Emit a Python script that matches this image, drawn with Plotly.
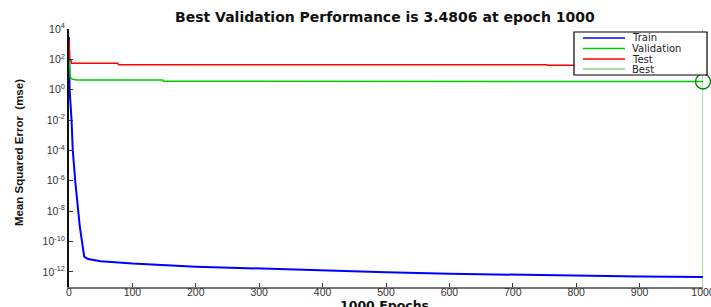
import plotly.graph_objects as go

# ---------------- data ----------------
train_epochs = [0, 1, 4, 6, 10, 13, 17, 24, 30, 50, 100, 200, 300, 400, 500, 600, 700, 800, 900, 1000]
train_mse = [3000, 1.0, 1e-2, 1e-4, 8e-7, 5.6e-8, 1e-9, 1e-11, 7e-12, 5e-12, 3.5e-12,
             2.2e-12, 1.6e-12, 1.2e-12, 9.3e-13, 7.4e-13, 6.3e-13, 5.6e-13, 5e-13, 4.5e-13]

val_epochs = [0, 1, 2, 5, 9, 12, 148, 149, 1000]
val_mse = [120, 12, 6.5, 5.0, 4.5, 4.35, 4.3, 3.6, 3.4806]

test_epochs = [0, 1, 3, 4, 77, 78, 754, 755, 1000]
test_mse = [1900, 95, 90, 55, 55, 44, 44, 41, 41]

best_epoch = 1000
best_perf = 3.4806

x_tick_vals = [0, 100, 200, 300, 400, 500, 600, 700, 800, 900, 1000]
y_tick_exps = [-12, -10, -8, -6, -4, -2, 0, 2, 4]
y_tick_vals = [10.0 ** e for e in y_tick_exps]
y_tick_text = ["10<sup>%d</sup>" % e for e in y_tick_exps]

legend_names = ["Train", "Validation", "Test", "Best"]
legend_colors = ["#0000ff", "#00cc00", "#ff0000", "rgba(0,150,0,0.35)"]

title_text = "Best Validation Performance is 3.4806 at epoch 1000"
x_label = "1000 Epochs"
y_label = "Mean Squared Error  (mse)"

# ---------------- figure ----------------
fig = go.Figure()

fig.add_trace(go.Scatter(x=train_epochs, y=train_mse, mode="lines",
                         line=dict(color="#0000ff", width=2), showlegend=False))
fig.add_trace(go.Scatter(x=val_epochs, y=val_mse, mode="lines",
                         line=dict(color="#00cc00", width=1.5), showlegend=False))
fig.add_trace(go.Scatter(x=test_epochs, y=test_mse, mode="lines",
                         line=dict(color="#ff0000", width=1.5), showlegend=False))
# Best: vertical line + circle
fig.add_trace(go.Scatter(x=[best_epoch, best_epoch], y=[1e-13, 1e4], mode="lines",
                         line=dict(color="rgba(0,150,0,0.45)", width=1.5), showlegend=False))
fig.add_trace(go.Scatter(x=[best_epoch], y=[best_perf], mode="markers", cliponaxis=False,
                         marker=dict(symbol="circle-open", size=15,
                                     line=dict(color="#008000", width=1.3), color="#008000"),
                         showlegend=False))

L, R, T, B = 69, 8, 29, 20
W, H = 711, 307
pw, ph = W - L - R, H - T - B

def px_x(px):
    return (px - L) / pw

def px_y(py):
    return (H - B - py) / ph

shapes = []
annotations = []

# legend box
shapes.append(dict(type="rect", xref="paper", yref="paper",
                   x0=px_x(574), x1=px_x(707), y0=px_y(75), y1=px_y(32),
                   line=dict(color="black", width=1.2), fillcolor="white", layer="above"))
rows = [38, 48.5, 59, 69]
for name, col, ry in zip(legend_names, legend_colors, rows):
    shapes.append(dict(type="line", xref="paper", yref="paper",
                       x0=px_x(583), x1=px_x(625), y0=px_y(ry), y1=px_y(ry),
                       line=dict(color=col, width=1.5 if name != "Best" else 2), layer="above"))
    annotations.append(dict(text=name, xref="paper", yref="paper", x=px_x(630), y=px_y(ry),
                            xanchor="left", yanchor="middle", showarrow=False,
                            font=dict(family="DejaVu Sans, Liberation Sans", size=10, color="#222")))

annotations.append(dict(text="<b>%s</b>" % title_text, xref="paper", yref="paper",
                        x=px_x(385), y=px_y(17), xanchor="center", yanchor="middle",
                        showarrow=False,
                        font=dict(family="DejaVu Sans, Liberation Sans", size=14, color="#111")))
annotations.append(dict(text="<b>%s</b>" % x_label, xref="paper", yref="paper",
                        x=px_x(384), y=px_y(305), xanchor="center", yanchor="middle",
                        showarrow=False,
                        font=dict(family="DejaVu Sans, Liberation Sans", size=12.5, color="#111")))
annotations.append(dict(text="<b>%s</b>" % y_label, xref="paper", yref="paper",
                        x=px_x(19), y=px_y(153), xanchor="center", yanchor="middle",
                        textangle=-90, showarrow=False,
                        font=dict(family="Liberation Sans Narrow, Arial Narrow, Liberation Sans",
                                  size=11.5, color="#111")))

fig.update_layout(
    width=W, height=H,
    margin=dict(l=L, r=R, t=T, b=B, pad=0, autoexpand=False),
    paper_bgcolor="white", plot_bgcolor="white",
    shapes=shapes, annotations=annotations,
    showlegend=False,
)
fig.update_xaxes(range=[0, 1000], tickvals=x_tick_vals, showgrid=False, zeroline=False,
                 showline=True, linecolor="#777", linewidth=1.5, automargin=False,
                 ticks="inside", ticklen=4, tickcolor="#333", ticklabeloverflow="allow",
                 ticklabelstandoff=-5,
                 tickfont=dict(family="Liberation Sans, Arial", size=10.5, color="#333"))
fig.update_yaxes(type="log", range=[-13, 4], tickvals=y_tick_vals, ticktext=y_tick_text,
                 showgrid=False, zeroline=False, showline=True, linecolor="#111", linewidth=2,
                 automargin=False,
                 ticks="inside", ticklen=4, tickcolor="#333",
                 tickfont=dict(family="Liberation Sans, Arial", size=10.5, color="#333"))

fig.write_html("out.html", config={"displayModeBar": False},
               post_script="document.body.style.margin='0';document.body.style.overflow='hidden';")
